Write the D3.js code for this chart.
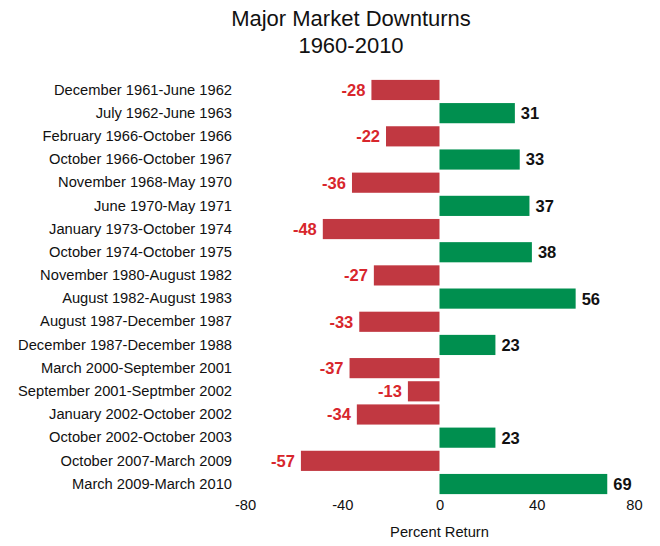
<!DOCTYPE html>
<html>
<head>
<meta charset="utf-8">
<script src="https://cdn.jsdelivr.net/npm/d3@7"></script>
<style>
  body { margin: 0; background: #fff; }
  svg { font-family: "Liberation Sans", Arial, sans-serif; }
</style>
</head>
<body>
<svg id="chart"></svg>
<script>
// Data
const periods = [
    "December 1961-June 1962",
    "July 1962-June 1963",
    "February 1966-October 1966",
    "October 1966-October 1967",
    "November 1968-May 1970",
    "June 1970-May 1971",
    "January 1973-October 1974",
    "October 1974-October 1975",
    "November 1980-August 1982",
    "August 1982-August 1983",
    "August 1987-December 1987",
    "December 1987-December 1988",
    "March 2000-September 2001",
    "September 2001-Septmber 2002",
    "January 2002-October 2002",
    "October 2002-October 2003",
    "October 2007-March 2009",
    "March 2009-March 2010"
];
const returns = [-28, 31, -22, 33, -36, 37, -48, 38, -27, 56, -33, 23, -37, -13, -34, 23, -57, 69];
const xTicks = [-80, -40, 0, 40, 80];

const width = 660;
const height = 546;
const svg = d3.select("#chart")
    .attr("width", width)
    .attr("height", height);

const x = d3.scaleLinear().domain([-80, 80]).range([245, 634]);
const y = d3.scaleBand().domain(periods).range([78.5, 495.5]).paddingInner(0.13).paddingOuter(0.06);

// Title
svg.append("text")
    .attr("x", 351).attr("y", 26)
    .attr("text-anchor", "middle")
    .attr("font-size", 22)
    .attr("fill", "#111")
    .text("Major Market Downturns");
svg.append("text")
    .attr("x", 351).attr("y", 53)
    .attr("text-anchor", "middle")
    .attr("font-size", 22)
    .attr("fill", "#111")
    .text("1960-2010");

const rows = periods.map((p, i) => ({ period: p, value: returns[i] }));

// Bars
svg.selectAll("rect.bar")
    .data(rows)
    .enter()
    .append("rect")
    .attr("class", "bar")
    .attr("x", d => x(Math.min(0, d.value)))
    .attr("y", d => y(d.period))
    .attr("width", d => Math.abs(x(d.value) - x(0)))
    .attr("height", y.bandwidth())
    .attr("fill", d => d.value < 0 ? "#c13841" : "#008f4f");

// Value labels
svg.selectAll("text.val")
    .data(rows)
    .enter()
    .append("text")
    .attr("class", "val")
    .attr("x", d => d.value < 0 ? x(d.value) - 6 : x(d.value) + 6)
    .attr("y", d => y(d.period) + y.bandwidth() / 2)
    .attr("dy", "0.36em")
    .attr("text-anchor", d => d.value < 0 ? "end" : "start")
    .attr("font-size", 16.5)
    .attr("font-weight", "bold")
    .attr("fill", d => d.value < 0 ? "#d8262c" : "#111")
    .text(d => d.value);

// Category labels
const yAxis = svg.append("g")
    .attr("transform", "translate(232,0)")
    .call(d3.axisLeft(y).tickSize(0).tickPadding(0));
yAxis.select(".domain").remove();
yAxis.selectAll("text")
    .attr("font-size", 14.7)
    .attr("font-family", "Liberation Sans, Arial, sans-serif")
    .attr("fill", "#111");

// X axis labels
const xAxis = svg.append("g")
    .attr("transform", "translate(0,496)")
    .call(d3.axisBottom(x).tickValues(xTicks).tickFormat(d => String(d)).tickSize(0).tickPadding(4));
xAxis.select(".domain").remove();
xAxis.selectAll("text")
    .attr("font-size", 14.7)
    .attr("font-family", "Liberation Sans, Arial, sans-serif")
    .attr("fill", "#111");

svg.append("text")
    .attr("x", x(0)).attr("y", 537)
    .attr("text-anchor", "middle")
    .attr("font-size", 14.7)
    .attr("fill", "#111")
    .text("Percent Return");
</script>
</body>
</html>
